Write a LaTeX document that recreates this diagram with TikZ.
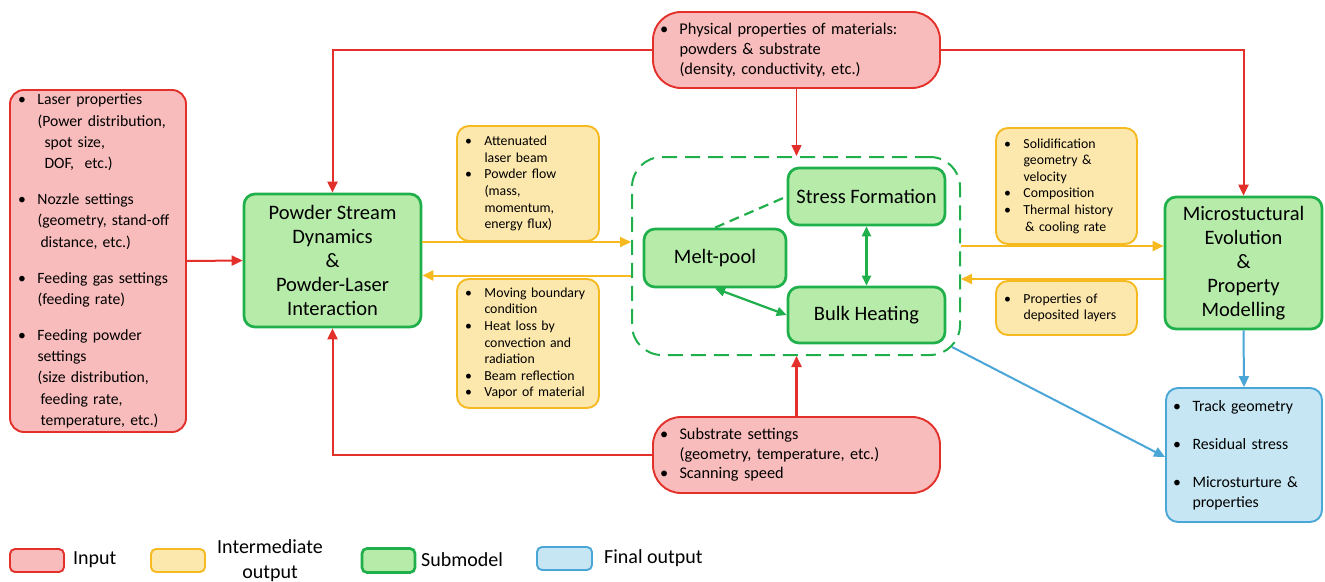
\documentclass[tikz,border=0pt]{standalone}
\usepackage{fontspec}
\setmainfont{Carlito}
\usepackage{tikz}
\usetikzlibrary{arrows.meta}
\definecolor{inred}{HTML}{E3302A}
\definecolor{inredbg}{HTML}{F9BCBC}
\definecolor{midgold}{HTML}{F6B91F}
\definecolor{midgoldbg}{HTML}{FCE7AC}
\definecolor{modgreen}{HTML}{1FAF4B}
\definecolor{modgreenbg}{HTML}{B6EBA9}
\definecolor{outblue}{HTML}{4BA6D8}
\definecolor{outbluebg}{HTML}{C5E6F2}
\newcommand{\itemdot}{\makebox[19.5pt][l]{\textbullet}}
\newcommand{\itemgap}{\hspace*{19.5pt}}
\tikzset{
  inbox/.style={draw=inred, fill=inredbg, line width=1.9pt, rounded corners=14pt, inner xsep=8pt, inner ysep=0pt, align=left},
  midbox/.style={draw=midgold, fill=midgoldbg, line width=1.9pt, rounded corners=12pt, inner xsep=8pt, inner ysep=0pt, align=left, font=\fontsize{13.8}{16.6}\selectfont},
  modbox/.style={draw=modgreen, fill=modgreenbg, line width=2.7pt, rounded corners=11pt, align=center, inner sep=0pt, font=\fontsize{20.5}{24}\selectfont},
  outbox/.style={draw=outblue, fill=outbluebg, line width=1.9pt, rounded corners=12pt, inner xsep=7pt, inner ysep=0pt, align=left, font=\fontsize{15.8}{20}\selectfont},
  corebox/.style={draw=modgreen, line width=2pt, dash pattern=on 15pt off 8pt, rounded corners=30pt},
  legtxt/.style={font=\fontsize{20}{25}\selectfont, inner sep=0pt},
  redln/.style={draw=inred, line width=2pt, -{Triangle[length=11pt,width=10pt]}},
  midln/.style={draw=midgold, line width=2pt, -{Triangle[length=11pt,width=10pt]}},
  modln/.style={draw=modgreen, line width=2.2pt},
  outln/.style={draw=outblue, line width=2pt, -{Triangle[length=11pt,width=10pt]}},
}
\begin{document}
\begin{tikzpicture}[x=1pt, y=-1pt]
  \useasboundingbox (0,0) rectangle (1325,581);

  % inputs
  \node[inbox, font=\fontsize{15.7}{21.3}\selectfont, text width=160pt, minimum width=176pt, minimum height=342pt] (laser) at (98,261) {%
    \itemdot Laser properties\\
    \itemgap(Power distribution,\\
    \itemgap\hspace*{7pt}spot size,\\
    \itemgap\hspace*{7pt}DOF,~ etc.)\\[14.5pt]
    \itemdot Nozzle settings\\
    \itemgap(geometry, stand-off\\
    \itemgap\hspace*{3pt}distance, etc.)\\[14.5pt]
    \itemdot Feeding gas settings\\
    \itemgap(feeding rate)\\[14.5pt]
    \itemdot Feeding powder\\
    \itemgap settings\\
    \itemgap(size distribution,\\
    \itemgap\hspace*{3pt}feeding rate,\\
    \itemgap\hspace*{3pt}temperature, etc.)};
  \node[inbox, rounded corners=28pt, inner xsep=7pt, font=\fontsize{16.4}{20}\selectfont, text width=273pt, minimum width=287pt, minimum height=76pt] (phys) at (796.5,50) {%
    \itemdot Physical properties of materials:\\
    \itemgap powders \& substrate\\
    \itemgap(density, conductivity, etc.)};
  \node[inbox, rounded corners=28pt, inner xsep=7pt, font=\fontsize{16.3}{19.5}\selectfont, text width=273pt, minimum width=287pt, minimum height=76pt] (subs) at (796.5,455) {%
    \itemdot Substrate settings\\
    \itemgap(geometry, temperature, etc.)\\
    \itemdot Scanning speed};

  % submodels
  \node[modbox, minimum width=177pt, minimum height=133pt] (psd) at (332.5,260.5) {Powder Stream\\Dynamics\\\&\\Powder-Laser\\Interaction};
  \node[corebox, minimum width=328pt, minimum height=198pt] (core) at (796,256) {};
  \node[modbox, minimum width=157pt, minimum height=57pt] (sf) at (866.5,196.5) {Stress Formation};
  \node[modbox, minimum width=142pt, minimum height=58pt] (mp) at (715,258) {Melt-pool};
  \node[modbox, minimum width=157pt, minimum height=56pt] (bh) at (866.5,315) {Bulk Heating};
  \node[modbox, minimum width=157pt, minimum height=132pt] (mic) at (1243.5,263) {Microstuctural\\Evolution\\\&\\Property\\Modelling};

  % intermediate outputs
  \node[midbox, text width=126pt, minimum width=142pt, minimum height=115pt] (att) at (528,183.5) {%
    \itemdot Attenuated\\
    \itemgap laser beam\\
    \itemdot Powder flow\\
    \itemgap(mass,\\
    \itemgap momentum,\\
    \itemgap energy flux)};
  \node[midbox, text width=126pt, minimum width=142pt, minimum height=129pt] (bnd) at (528,343.5) {%
    \itemdot Moving boundary\\
    \itemgap condition\\
    \itemdot Heat loss by\\
    \itemgap convection and\\
    \itemgap radiation\\
    \itemdot Beam reflection\\
    \itemdot Vapor of material};
  \node[midbox, text width=125pt, minimum width=141pt, minimum height=116pt] (sol) at (1066.5,186) {%
    \itemdot Solidification\\
    \itemgap geometry \&\\
    \itemgap velocity\\
    \itemdot Composition\\
    \itemdot Thermal history\\
    \itemgap\hspace*{1.5pt}\& cooling rate};
  \node[midbox, text width=125pt, minimum width=141pt, minimum height=54pt] (dep) at (1066.5,308) {%
    \itemdot Properties of\\
    \itemgap deposited layers};

  % final output
  \node[outbox, text width=142pt, minimum width=156pt, minimum height=134pt] (fin) at (1244,455) {%
    \itemdot Track geometry\\[18pt]
    \itemdot Residual stress\\[18pt]
    \itemdot Microsturture \&\\
    \itemgap properties};

  % red inputs
  \draw[redln] (laser.east) -- (psd.west);
  \draw[redln] (phys.west) -| (psd.north);
  \draw[redln] (phys.east) -| (mic.north);
  \draw[redln, line width=1.4pt] (phys.south) -- (phys.south |- core.north);
  \draw[redln, line width=2.4pt] (subs.north) -- (subs.north |- core.south);
  \draw[redln] (subs.west) -| (psd.south);

  % yellow exchange
  \coordinate (psdout) at ([yshift=18.5pt]psd.east);
  \coordinate (psdin) at ([yshift=-15pt]psd.east);
  \coordinate (micin) at ([yshift=17pt]mic.west);
  \coordinate (micout) at ([yshift=-16pt]mic.west);
  \draw[midln] (psdout) -- (psdout -| core.west);
  \draw[midln] (psdin -| core.west) -- (psdin);
  \draw[midln] (micin -| core.east) -- (micin);
  \draw[midln] (micout) -- (micout -| core.east);

  % inside the core
  \draw[modln, dash pattern=on 10pt off 6pt] (mp.north) -- (sf.west);
  \draw[modln, {Triangle[length=10pt,width=9pt]}-{Triangle[length=10pt,width=9pt]}] (sf.south) -- (bh.north);
  \draw[modln, {Triangle[length=10pt,width=9pt]}-{Triangle[length=10pt,width=9pt]}] (mp.south) -- (bh.west);

  % blue outputs
  \coordinate (coreout) at ([xshift=-9pt,yshift=9pt]core.south east);
  \draw[outln] (mic.south) -- (fin.north);
  \draw[outln] (coreout) -- ([yshift=-2pt]fin.west);

  % legend
  \node[inbox, rounded corners=5pt, minimum width=54pt, minimum height=23pt] (lgin) at (37,560.5) {};
  \node[legtxt, anchor=west] (lgintxt) at (73,560) {Input};
  \node[midbox, rounded corners=5pt, minimum width=54pt, minimum height=23pt] (lgmid) at (178,560.5) {};
  \node[legtxt, align=center] (lgmidtxt) at (270,560.5) {Intermediate\\output};
  \node[modbox, rounded corners=5pt, minimum width=53pt, minimum height=24pt] (lgmod) at (388.5,560.5) {};
  \node[legtxt, anchor=west] (lgmodtxt) at (421,560) {Submodel};
  \node[outbox, rounded corners=5pt, minimum width=55pt, minimum height=23pt] (lgout) at (564.5,558.5) {};
  \node[legtxt, anchor=west] (lgouttxt) at (604,558) {Final output};
\end{tikzpicture}
\end{document}
